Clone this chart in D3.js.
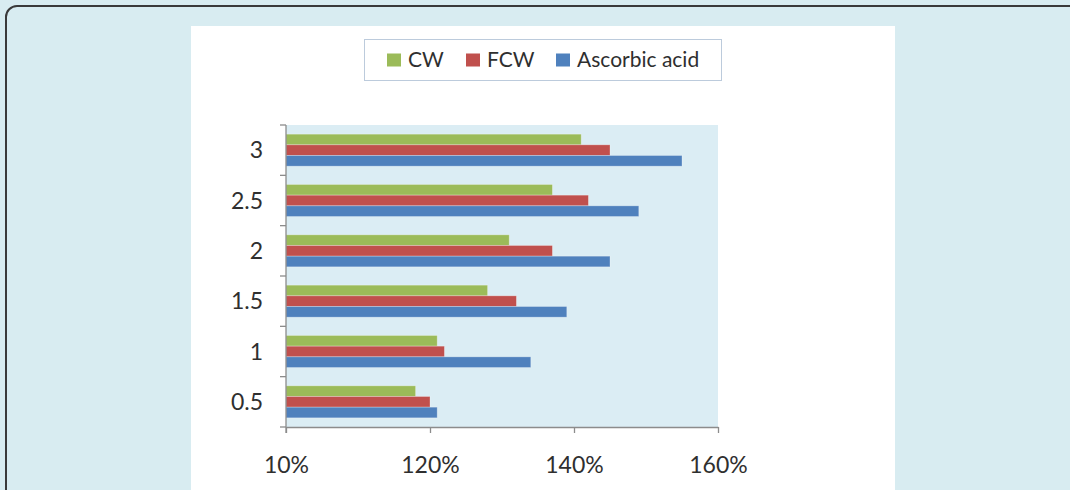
<!DOCTYPE html>
<html>
<head>
<meta charset="utf-8">
<script src="https://cdn.jsdelivr.net/npm/d3@7"></script>
<style>
  html, body { margin: 0; padding: 0; background: #d8ecf1; }
  svg { display: block; }
</style>
</head>
<body>
<svg id="chart" width="1070" height="490"></svg>
<script>
// Concentration levels (bottom to top as listed)
const categories = ["0.5", "1", "1.5", "2", "2.5", "3"];
const seriesNames = ["CW", "FCW", "Ascorbic acid"];
const cwValues = [118, 121, 128, 131, 137, 141];
const fcwValues = [120, 122, 132, 137, 142, 145];
const ascorbicValues = [121, 134, 139, 145, 149, 155];
const xTickValues = [100, 120, 140, 160];
const xTickLabels = ["10%", "120%", "140%", "160%"];
const seriesColors = ["#9bbb59", "#c0504d", "#4f81bd"];

const series = [cwValues, fcwValues, ascorbicValues];

const svg = d3.select("#chart");
const FONT = "Lato, 'Open Sans', sans-serif";
const TEXT_COLOR = "#2f2f2f";

// page frame
svg.append("rect")
  .attr("x", 6).attr("y", 6)
  .attr("width", 1200).attr("height", 700)
  .attr("rx", 11).attr("ry", 11)
  .attr("fill", "#d8ecf1")
  .attr("stroke", "#3a3a3a").attr("stroke-width", 2);

// white chart panel
svg.append("rect")
  .attr("x", 191).attr("y", 26)
  .attr("width", 704).attr("height", 480)
  .attr("fill", "#ffffff");

const plot = { left: 286, right: 718, top: 125, bottom: 427 };

const x = d3.scaleLinear().domain([100, 160]).range([plot.left, plot.right]);
const y = d3.scaleBand()
  .domain(categories.slice().reverse())
  .range([plot.top, plot.bottom])
  .paddingInner(0.364)
  .paddingOuter(0.182);
const ySub = d3.scaleBand()
  .domain(seriesNames)
  .range([0, y.bandwidth()]);

// plot area background
svg.append("rect")
  .attr("x", plot.left).attr("y", plot.top)
  .attr("width", plot.right - plot.left)
  .attr("height", plot.bottom - plot.top)
  .attr("fill", "#dbedf4");

// bars
const groups = svg.append("g").selectAll("g")
  .data(categories)
  .join("g")
  .attr("transform", c => `translate(0,${y(c)})`);

groups.selectAll("rect")
  .data((c, i) => seriesNames.map((s, k) => ({ s, k, v: series[k][i] })))
  .join("rect")
  .attr("x", x(100))
  .attr("y", d => ySub(d.s))
  .attr("width", d => x(d.v) - x(100))
  .attr("height", ySub.bandwidth())
  .attr("fill", d => seriesColors[d.k])
  .attr("stroke", "rgba(255,255,255,0.35)")
  .attr("stroke-width", 0.8);

// x axis
const xAxis = svg.append("g")
  .attr("transform", `translate(0,${plot.bottom})`)
  .call(d3.axisBottom(x)
    .tickValues(xTickValues)
    .tickSize(6)
    .tickSizeOuter(0)
    .tickFormat((d, i) => xTickLabels[i]));
xAxis.select(".domain").attr("stroke", "#8c8c8c").attr("stroke-width", 1.3);
xAxis.selectAll(".tick line").attr("stroke", "#8c8c8c").attr("stroke-width", 1.3);
xAxis.selectAll(".tick text")
  .attr("y", 46)
  .attr("dy", "0")
  .attr("fill", TEXT_COLOR)
  .style("font-family", FONT)
  .style("font-size", "23px");

// y axis: line plus boundary ticks between categories
const yAxisG = svg.append("g");
yAxisG.append("line")
  .attr("x1", plot.left).attr("x2", plot.left)
  .attr("y1", plot.top).attr("y2", plot.bottom + 6)
  .attr("stroke", "#8c8c8c").attr("stroke-width", 1.3);
const step = y.step();
const boundaries = d3.range(categories.length + 1).map(i => plot.top + i * step);
yAxisG.selectAll("line.tick")
  .data(boundaries)
  .join("line")
  .attr("class", "tick")
  .attr("x1", plot.left - 6).attr("x2", plot.left)
  .attr("y1", d => d).attr("y2", d => d)
  .attr("stroke", "#8c8c8c").attr("stroke-width", 1.3);
yAxisG.selectAll("text")
  .data(categories)
  .join("text")
  .attr("x", 263)
  .attr("y", c => y(c) + y.bandwidth() / 2)
  .attr("dy", "0.36em")
  .attr("text-anchor", "end")
  .attr("fill", TEXT_COLOR)
  .style("font-family", FONT)
  .style("font-size", "23px")
  .text(c => c);

// legend
const legend = svg.append("g");
legend.append("rect")
  .attr("x", 364.5).attr("y", 39.5)
  .attr("width", 357).attr("height", 41)
  .attr("fill", "#ffffff")
  .attr("stroke", "#bccbdc").attr("stroke-width", 1);
const legendX = [387, 466, 556];
const items = legend.selectAll("g.item")
  .data(seriesNames)
  .join("g")
  .attr("class", "item")
  .attr("transform", (d, i) => `translate(${legendX[i]},0)`);
items.append("rect")
  .attr("x", 0).attr("y", 53.5)
  .attr("width", 14).attr("height", 13)
  .attr("fill", (d, i) => seriesColors[i]);
items.append("text")
  .attr("x", 21).attr("y", 67)
  .attr("fill", TEXT_COLOR)
  .style("font-family", FONT)
  .style("font-size", "21px")
  .text(d => d);
</script>
</body>
</html>
